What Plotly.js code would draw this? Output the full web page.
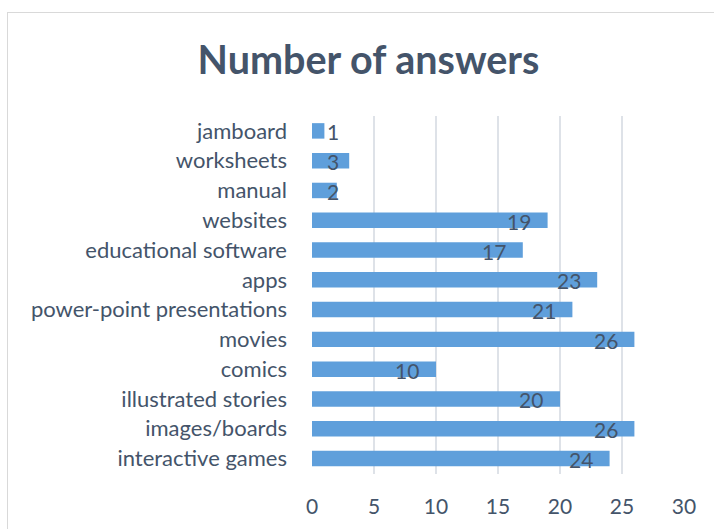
<!DOCTYPE html>
<html>
<head>
<meta charset="utf-8">
<script src="https://cdn.plot.ly/plotly-3.0.1.min.js"></script>
<style>
html,body{margin:0;padding:0;background:#fff;overflow:hidden;}
#frame{position:absolute;left:7px;top:12px;width:720px;height:530px;border:1px solid #D9D9D9;box-sizing:border-box;}
#chart{position:absolute;left:0;top:0;width:714px;height:529px;}
</style>
</head>
<body>
<div id="frame"></div>
<div id="chart"></div>
<script>
// categories listed bottom to top
const categories = ["interactive games","images/boards","illustrated stories","comics","movies","power-point presentations","apps","educational software","websites","manual","worksheets","jamboard"];
const answers = [24,26,20,10,26,21,23,17,19,2,3,1];
const xTicks = [0,5,10,15,20,25,30];

const textColor = "#44546A";
const font = "Lato, 'Open Sans', sans-serif";

const trace = {
  type: "bar",
  orientation: "h",
  y: categories,
  x: answers,
  marker: {color: "#5F9FDB"},
  hoverinfo: "x+y"
};

const annotations = categories.map((c, i) => ({
  x: Math.max(answers[i] - 2.3, 1.73),
  y: c,
  xref: "x", yref: "y",
  text: String(answers[i]),
  showarrow: false,
  xanchor: "center",
  yanchor: "middle",
  yshift: -1,
  font: {family: font, size: 21, color: textColor}
}));

const layout = {
  width: 714, height: 529,
  paper_bgcolor: "rgba(0,0,0,0)",
  plot_bgcolor: "rgba(0,0,0,0)",
  margin: {l: 311.5, r: 30, t: 116, b: 55, pad: 0},
  showlegend: false,
  bargap: 0.48,
  title: {
    text: "<b>Number of answers</b>",
    x: 368.5 / 714, xanchor: "center",
    y: 1 - 60 / 529, yanchor: "middle",
    font: {family: font, size: 39.5, color: textColor}
  },
  xaxis: {
    range: [0, 30],
    tickvals: xTicks,
    ticktext: xTicks.map(String),
    showgrid: true,
    gridcolor: "#DEE2E8",
    gridwidth: 1.3,
    zeroline: false,
    showline: false,
    ticks: "",
    ticklabelstandoff: 18,
    tickfont: {family: font, size: 21, color: textColor},
    fixedrange: true
  },
  yaxis: {
    type: "category",
    categoryorder: "array",
    categoryarray: categories,
    showgrid: false,
    zeroline: false,
    showline: false,
    ticks: "",
    ticklabelstandoff: 24,
    tickfont: {family: font, size: 22, color: textColor},
    fixedrange: true
  },
  annotations: annotations
};

Plotly.newPlot("chart", [trace], layout, {displayModeBar: false, staticPlot: true});
</script>
</body>
</html>
